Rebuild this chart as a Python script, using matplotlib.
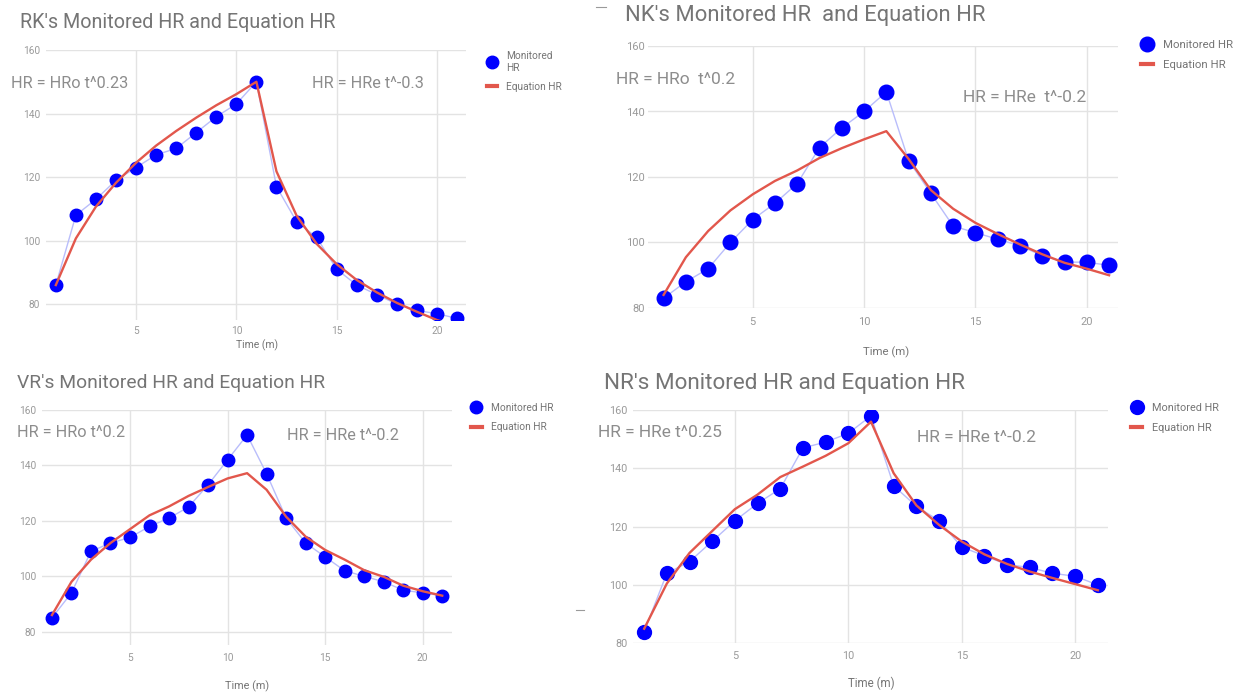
import matplotlib
matplotlib.use("Agg")
import matplotlib.pyplot as plt
from matplotlib.lines import Line2D

plt.rcParams['font.family'] = ['Roboto', 'DejaVu Sans']

# ---------------- data ----------------
time_min = list(range(1, 22))

rk_monitored = [86, 108, 113, 119, 123, 127, 129, 134, 139, 143, 150,
                117, 106, 101, 91, 86, 83, 80, 78, 77, 75.5]
rk_equation = [86, 100.7, 110.7, 118.2, 124.5, 129.9, 134.5, 138.7, 142.6, 146.1, 150,
               121.8, 107.9, 99.0, 92.6, 87.6, 83.7, 80.4, 77.6, 75.0, 73.1]

nk_monitored = [83, 88, 92, 100, 107, 112, 118, 129, 135, 140, 146,
                125, 115, 105, 103, 101, 99, 96, 94, 94, 93]
nk_equation = [84, 95.5, 103.5, 109.8, 114.7, 118.8, 122.0, 125.8, 128.8, 131.5, 134,
               125.5, 116, 110.3, 106, 102.6, 99.4, 96.4, 93.8, 92, 90]

vr_monitored = [85, 94, 109, 112, 114, 118, 121, 125, 133, 142, 151,
                137, 121, 112, 107, 102, 100, 98, 95, 94, 93]
vr_equation = [86, 98, 106, 112, 117, 122, 125.2, 129, 132.2, 135.3, 137.2,
               131.2, 121.5, 114.3, 109.5, 106, 102.2, 99.8, 96.6, 94.6, 93]

nr_monitored = [84, 104, 108, 115, 122, 128, 133, 147, 149, 152, 158,
                134, 127, 122, 113, 110, 107, 106, 104, 103, 100]
nr_equation = [85, 100.5, 111, 118.5, 126, 131, 137, 140.6, 144.3, 148.6, 156,
               138.3, 127.3, 120.6, 114.9, 110.5, 107.2, 104.6, 102.4, 100.3, 98.2]

titles = ["RK's Monitored HR and Equation HR",
          "NK's Monitored HR  and Equation HR",
          "VR's Monitored HR and Equation HR",
          "NR's Monitored HR and Equation HR"]
rise_labels = ["HR = HRo t^0.23", "HR = HRo  t^0.2", "HR = HRo t^0.2", "HR = HRe t^0.25"]
decay_labels = ["HR = HRe t^-0.3", "HR = HRe  t^-0.2", "HR = HRe t^-0.2", "HR = HRe t^-0.2"]
legend_monitored = ["Monitored\nHR", "Monitored HR", "Monitored HR", "Monitored HR"]
legend_equation = "Equation HR"
x_label = "Time (m)"
y_ticks = [80, 100, 120, 140, 160]
x_ticks = [5, 10, 15, 20]

# ---------------- layout (pixel positions) ----------------
W, H = 1247, 694
fig = plt.figure(figsize=(W / 100, H / 100), dpi=100)
fig.patch.set_facecolor('white')

BLUE = '#0000ff'
RED = '#e2574c'
CONN = '#b9bdfb'
GRID = '#e3e3e3'
TXT = '#757575'
TICK = '#9a9a9a'
ANN = '#8d8d8d'

panels = [
    dict(mon=rk_monitored, eq=rk_equation, box=(46, 466, 50, 320), xlim=(0.51, 21.45), ylim=(75, 160),
         title_xy=(20, 22), tsize=14.2, ann1=(11, 83), ann2=(312, 84), asize=11.7,
         leg=(486.5, 51), lsize=7.3, ms=9, ypad=4.3, xpad=4.3, tick_size=7.3,
         xl=(257, 345), xlsize=7.5),
    dict(mon=nk_monitored, eq=nk_equation, box=(648, 1118, 46, 308), xlim=(0.3, 21.4), ylim=(80, 160),
         title_xy=(625, 15), tsize=15.8, ann1=(616, 80), ann2=(963, 97), asize=12.5,
         leg=(1141, 40), lsize=8.2, ms=10.5, ypad=2.5, xpad=6.3, tick_size=8,
         xl=(886, 352), xlsize=8.2),
    dict(mon=vr_monitored, eq=vr_equation, box=(42, 451.6, 410, 645), xlim=(0.49, 21.48), ylim=(75.2, 160),
         title_xy=(17, 383), tsize=13.9, ann1=(17, 433), ann2=(287, 436), asize=11.7,
         leg=(471, 403), lsize=7.3, ms=9, ypad=4.3, xpad=5.8, tick_size=7.3,
         xl=(247, 686), xlsize=7.8),
    dict(mon=nr_monitored, eq=nr_equation, box=(632.6, 1107.6, 410, 643.3), xlim=(0.49, 21.43), ylim=(80, 160),
         title_xy=(604.5, 383), tsize=16.2, ann1=(598, 433), ann2=(917, 438), asize=12.5,
         leg=(1131, 403), lsize=7.8, ms=10, ypad=3.6, xpad=5.5, tick_size=7.8,
         xl=(871, 683), xlsize=8.3),
]

for i, p in enumerate(panels):
    l, r, t, b = p['box']
    ax = fig.add_axes([l / W, 1 - b / H, (r - l) / W, (b - t) / H])
    ax.set_facecolor('white')
    for s in ax.spines.values():
        s.set_visible(False)
    ax.set_xlim(*p['xlim'])
    ax.set_ylim(*p['ylim'])
    ax.set_xticks(x_ticks)
    ax.set_yticks(y_ticks)
    ax.grid(True, color=GRID, linewidth=1.0, zorder=0)
    ax.set_axisbelow(True)
    ax.tick_params(length=0, labelsize=p['tick_size'], labelcolor=TICK)
    ax.tick_params(axis='y', pad=p['ypad'])
    ax.tick_params(axis='x', pad=p['xpad'])

    # monitored: thin connector + big dots
    ax.plot(time_min, p['mon'], color=CONN, linewidth=1.0, zorder=2)
    ax.plot(time_min, p['mon'], linestyle='none', marker='o', markersize=p['ms'],
            markerfacecolor=BLUE, markeredgecolor=BLUE, zorder=3)
    # equation
    ax.plot(time_min, p['eq'], color=RED, linewidth=1.7, zorder=4, solid_joinstyle='round')

    # title
    fig.text(p['title_xy'][0] / W, 1 - p['title_xy'][1] / H, titles[i], fontsize=p['tsize'],
             color=TXT, ha='left', va='center')
    # equation annotations
    fig.text(p['ann1'][0] / W, 1 - p['ann1'][1] / H, rise_labels[i], fontsize=p['asize'],
             color=ANN, ha='left', va='center')
    fig.text(p['ann2'][0] / W, 1 - p['ann2'][1] / H, decay_labels[i], fontsize=p['asize'],
             color=ANN, ha='left', va='center')
    # x axis title
    fig.text(p['xl'][0] / W, 1 - p['xl'][1] / H, x_label, fontsize=p['xlsize'],
             color=TXT, ha='center', va='center')

    # legend
    handles = [Line2D([], [], linestyle='none', marker='o', markersize=p['ms'],
                      markerfacecolor=BLUE, markeredgecolor=BLUE),
               Line2D([], [], color=RED, linewidth=3.0)]
    ax.legend(handles, [legend_monitored[i], legend_equation],
              loc='upper left', bbox_to_anchor=(p['leg'][0] / W, 1 - p['leg'][1] / H),
              bbox_transform=fig.transFigure, frameon=False, fontsize=p['lsize'],
              labelcolor=TXT, borderpad=0, borderaxespad=0, handlelength=1.05,
              handletextpad=0.9, labelspacing=0.9)

# small stray marks present in the screenshot
fig.add_artist(Line2D([596 / W, 606 / W], [1 - 7 / H, 1 - 7 / H], color='#9a9a9a', linewidth=0.8))
fig.add_artist(Line2D([576 / W, 584 / W], [1 - 610 / H, 1 - 610 / H], color='#9a9a9a', linewidth=0.8))

fig.savefig('out.png', dpi=100, facecolor='white')
